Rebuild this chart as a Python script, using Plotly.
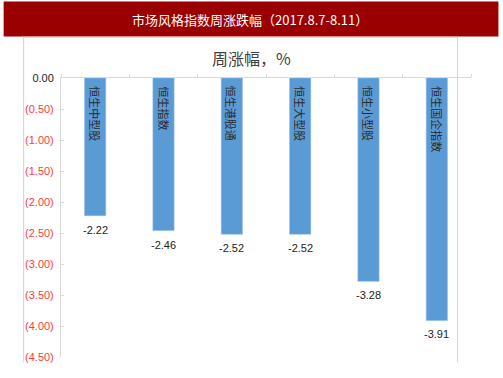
import plotly.graph_objects as go

categories = ["恒生中型股", "恒生指数", "恒生港股通", "恒生大型股", "恒生小型股", "恒生国企指数"]
values = [-2.22, -2.46, -2.52, -2.52, -3.28, -3.91]
value_labels = ["-2.22", "-2.46", "-2.52", "-2.52", "-3.28", "-3.91"]
tick_vals = [0, -0.5, -1.0, -1.5, -2.0, -2.5, -3.0, -3.5, -4.0, -4.5]
tick_text = ["0.00", "(0.50)", "(1.00)", "(1.50)", "(2.00)", "(2.50)", "(3.00)", "(3.50)", "(4.00)", "(4.50)"]

W, H = 503, 378
L, R, T, B = 60.5, 471.5, 78.3, 356.7

def px_x(p):
    return (p - L) / (R - L)

def px_y(p):
    return (B - p) / (B - T)

ticktext_colored = [
    t if i == 0 else f'<span style="color:#FF3B3B">{t}</span>'
    for i, t in enumerate(tick_text)
]

fig = go.Figure()
fig.add_trace(go.Bar(
    x=categories, y=values, width=0.31,
    marker=dict(color="#5B9BD5", line=dict(color="#8DB9E6", width=0.6)),
    hoverinfo="skip",
))

annotations = []
for c, v, lab in zip(categories, values, value_labels):
    annotations.append(dict(
        x=c, y=v, xref="x", yref="y", text=lab, showarrow=False,
        yanchor="top", yshift=-6,
        font=dict(family="Liberation Sans Narrow, Liberation Sans, Arial", size=11, color="#222222"),
    ))
    annotations.append(dict(
        x=c, y=0, xref="x", yref="y", text=c, showarrow=False,
        textangle=90, yanchor="top", yshift=-6,
        font=dict(family="Noto Sans CJK SC", size=11, color="#2a2a2a"),
    ))

annotations.append(dict(
    x=px_x(251), y=px_y(58), xref="paper", yref="paper",
    text="周涨幅，%", showarrow=False, xanchor="center", yanchor="middle",
    font=dict(family="Noto Sans CJK SC", size=16, color="#404040"),
))
annotations.append(dict(
    x=px_x(250), y=px_y(20), xref="paper", yref="paper",
    text="市场风格指数周涨跌幅（2017.8.7-8.11）", showarrow=False,
    xanchor="center", yanchor="middle",
    font=dict(family="Noto Sans CJK SC", size=13, color="#FFFFFF"),
))

shapes = [
    dict(type="rect", xref="paper", yref="paper",
         x0=px_x(3), x1=px_x(499), y0=px_y(37), y1=px_y(2),
         fillcolor="#9B0000", line=dict(width=0), layer="below"),
    dict(type="path", xref="paper", yref="paper",
         path=f"M {px_x(23)} {px_y(362)} L {px_x(23)} {px_y(37.7)} L {px_x(458)} {px_y(37.7)} L {px_x(458)} {px_y(362)}",
         line=dict(color="#D9D9D9", width=1.2), layer="below"),
]

fig.update_layout(
    width=W, height=H,
    margin=dict(l=L, r=W - R, t=T, b=H - B),
    paper_bgcolor="white", plot_bgcolor="white",
    showlegend=False,
    annotations=annotations,
    shapes=shapes,
    xaxis=dict(
        type="category", range=[-0.5, 5.5], side="top",
        showline=True, linecolor="#D9D9D9", linewidth=1,
        ticks="outside", ticklen=3, tickcolor="#D9D9D9", tickson="boundaries",
        showticklabels=False, showgrid=False, zeroline=False, fixedrange=True,
    ),
    yaxis=dict(
        range=[-4.5, 0], tickvals=tick_vals, ticktext=ticktext_colored,
        showline=True, linecolor="#D9D9D9", linewidth=1,
        ticks="inside", ticklen=3, tickcolor="#D9D9D9",
        showgrid=False, zeroline=False, fixedrange=True,
        tickfont=dict(family="Liberation Sans Narrow, Liberation Sans, Arial", size=11, color="#222222"),
        ticklabelstandoff=4,
    ),
)

fig.write_html(
    "out.html",
    config={"displayModeBar": False, "staticPlot": True},
    post_script="document.body.style.margin='0';document.body.style.overflow='hidden';",
)
